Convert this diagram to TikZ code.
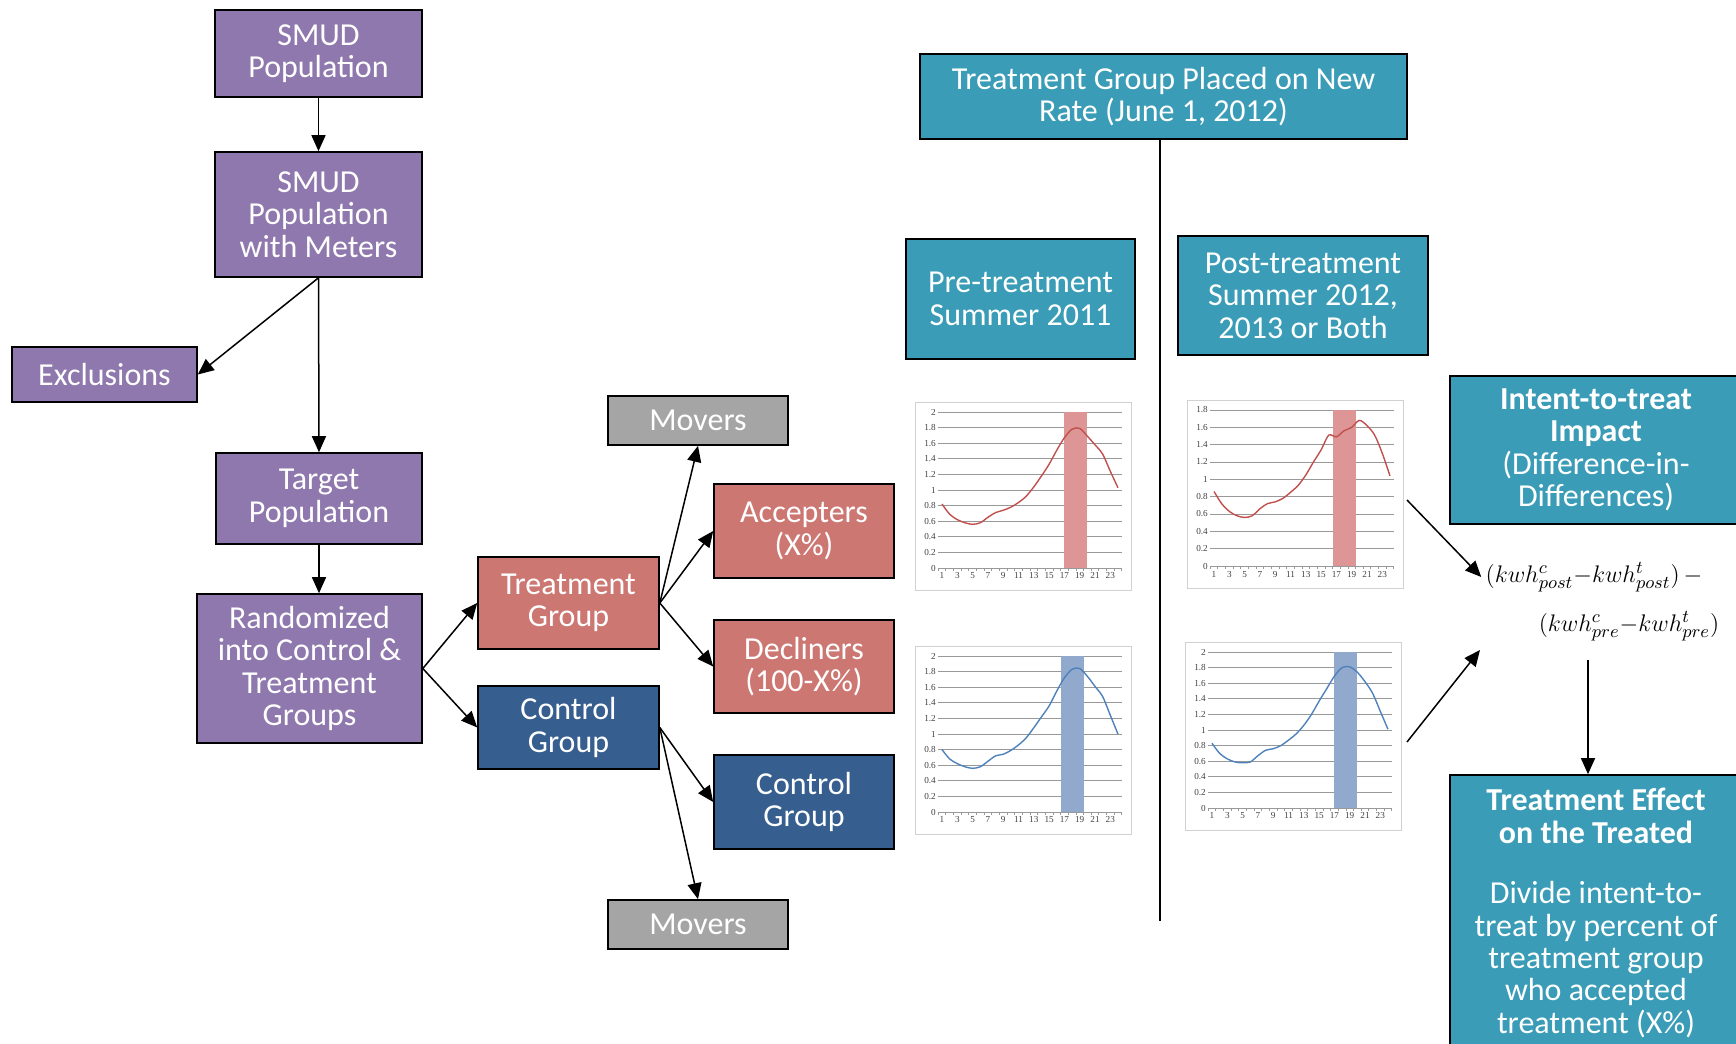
\documentclass[tikz,border=0pt]{standalone}
\usepackage{fontspec}
\setmainfont{Carlito}
\newfontfamily\chartfont{Liberation Serif}
\usetikzlibrary{arrows.meta}

\definecolor{smudpurple}{RGB}{143,120,173}
\definecolor{treatred}{RGB}{205,119,115}
\definecolor{ctrlblue}{RGB}{54,94,143}
\definecolor{moversgray}{RGB}{165,165,165}
\definecolor{rateteal}{RGB}{58,156,182}
\definecolor{plotred}{RGB}{192,80,77}
\definecolor{shadered}{RGB}{221,150,149}
\definecolor{plotblue}{RGB}{79,129,189}
\definecolor{shadeblue}{RGB}{145,169,204}

% #1,#2 frame corner, #3 y unit, #4 ymax, #5 grid values, #6,#7 peak band, #8 red/blue, #9 data
\newcommand{\hourchart}[9]{%
	\draw[chartframe] (#1,#2) rectangle ++(216,188);
	\begin{scope}[shift={(#1+19.35,#2+166)}, x=3.825pt, y=#3]
		\foreach \v in {#5} {
			\draw[chartgrid] (0.5,\v) -- (24.5,\v);
			\node[chartlbl, left] at (0.5,\v) {\v};
		}
		\foreach \h in {0.5,1.5,...,24.5} \draw[chartgrid] (\h,0) -- ++(0,-1.5pt);
		\foreach \h in {1,3,...,23} \node[chartlbl, below] at (\h,-0.03) {\h};
		\fill[#8band] (#6,0) rectangle (#7,#4);
		\draw[#8curve] plot[smooth, tension=0.5] coordinates {#9};
	\end{scope}}

\begin{document}
\begin{tikzpicture}[x=0.5pt, y=-0.5pt,
	box/.style={draw=black, line width=0.8pt, text=white, align=center, inner sep=2pt,
		font=\fontsize{16}{16.2}\selectfont},
	purplebox/.style={box, fill=smudpurple},
	redbox/.style={box, fill=treatred},
	bluebox/.style={box, fill=ctrlblue},
	graybox/.style={box, fill=moversgray},
	tealbox/.style={box, fill=rateteal},
	arr/.style={-{Triangle[length=8pt,width=7pt]}, line width=0.75pt},
	formula/.style={inner sep=0pt, font=\fontsize{13}{15}\selectfont},
	chartframe/.style={draw=black!18, line width=0.5pt},
	chartgrid/.style={draw=black!40, line width=0.35pt},
	chartlbl/.style={inner sep=1pt, text=black!75, font=\chartfont\fontsize{4.6}{5}\selectfont},
	redband/.style={fill=shadered},
	blueband/.style={fill=shadeblue},
	redcurve/.style={draw=plotred, line width=0.7pt},
	bluecurve/.style={draw=plotblue, line width=0.7pt}]
	\useasboundingbox (0,0) rectangle (1736,1044);

	\node[purplebox, minimum width=103.5pt, minimum height=43.5pt] (smud) at (318.5,53.5) {SMUD\\Population};
	\node[purplebox, minimum width=103.5pt, minimum height=62.5pt] (meters) at (318.5,214.5) {SMUD\\Population\\with Meters};
	\node[purplebox, minimum width=92.5pt, minimum height=27.5pt] (excl) at (104.5,374.5) {Exclusions};
	\node[purplebox, minimum width=103pt, minimum height=45.5pt] (target) at (319,498.5) {Target\\Population};
	\node[purplebox, minimum width=112.5pt, minimum height=74.5pt] (rand) at (309.5,668.5) {Randomized\\into Control \&\\Treatment\\Groups};

	\node[redbox, minimum width=90.5pt, minimum height=46pt] (treat) at (568.5,603) {Treatment\\Group};
	\node[bluebox, minimum width=90.5pt, minimum height=41.5pt] (ctrl) at (568.5,727.5) {Control\\Group};
	\node[graybox, minimum width=90pt, minimum height=24.5pt] (moversT) at (698,420.5) {Movers};
	\node[redbox, minimum width=90pt, minimum height=47pt] (acc) at (804,531) {Accepters\\(X\%)};
	\node[redbox, minimum width=90pt, minimum height=46.5pt] (dec) at (804,666.5) {Decliners\\(100-X\%)};
	\node[bluebox, minimum width=90pt, minimum height=47pt] (ctrlB) at (804,802) {Control\\Group};
	\node[graybox, minimum width=90pt, minimum height=24.5pt] (moversB) at (698,924.5) {Movers};

	\node[tealbox, minimum width=243.5pt, minimum height=42.5pt] (rate) at (1163.5,96.5) {Treatment Group Placed on New\\Rate (June 1, 2012)};
	\node[tealbox, minimum width=114.5pt, minimum height=60pt] (pre) at (1020.5,299) {Pre-treatment\\Summer 2011};
	\node[tealbox, minimum width=125pt, minimum height=59.5pt] (post) at (1303,295.5) {Post-treatment\\Summer 2012,\\2013 or Both};
	\node[tealbox, minimum width=146pt, minimum height=74pt] (itt) at (1596,450) {\textbf{Intent-to-treat}\\\textbf{Impact}\\(Difference-in-\\Differences)};
	\node[tealbox, minimum width=146pt, minimum height=138pt] (tot) at (1596,913) {\textbf{Treatment Effect}\\\textbf{on the Treated}\\[14pt]Divide intent-to-\\treat by percent of\\treatment group\\who accepted\\treatment (X\%)};

	\node[formula] (ddpost) at (1594,577) {$(kwh^{c}_{post}{-}kwh^{t}_{post})\,{-}$};
	\node[formula] (ddpre) at (1629,626) {$(kwh^{c}_{pre}{-}kwh^{t}_{pre})$};

	\hourchart{915}{402}{39pt}{2}{0,0.2,0.4,0.6,0.8,1,1.2,1.4,1.6,1.8,2}{17}{20}{red}{(1,0.82) (2,0.69) (3,0.62) (4,0.58) (5,0.56) (6,0.58) (7,0.65) (8,0.71) (9,0.74) (10,0.78) (11,0.84) (12,0.92) (13,1.04) (14,1.18) (15,1.33) (16,1.51) (17,1.67) (18,1.78) (19,1.79) (20,1.69) (21,1.58) (22,1.46) (23,1.24) (24,1.03)}
	\hourchart{1187}{400}{43.333pt}{1.8}{0,0.2,0.4,0.6,0.8,1,1.2,1.4,1.6,1.8}{16.5}{19.5}{red}{(1,0.86) (2,0.72) (3,0.63) (4,0.58) (5,0.56) (6,0.58) (7,0.66) (8,0.72) (9,0.74) (10,0.78) (11,0.85) (12,0.93) (13,1.05) (14,1.2) (15,1.34) (16,1.51) (17,1.49) (18,1.56) (19,1.6) (20,1.68) (21,1.62) (22,1.51) (23,1.3) (24,1.04)}
	\hourchart{915}{646}{39pt}{2}{0,0.2,0.4,0.6,0.8,1,1.2,1.4,1.6,1.8,2}{16.6}{19.6}{blue}{(1,0.8) (2,0.68) (3,0.62) (4,0.58) (5,0.56) (6,0.58) (7,0.65) (8,0.72) (9,0.74) (10,0.79) (11,0.86) (12,0.95) (13,1.08) (14,1.22) (15,1.36) (16,1.55) (17,1.72) (18,1.83) (19,1.84) (20,1.74) (21,1.61) (22,1.48) (23,1.24) (24,1)}
	\hourchart{1185}{642}{39pt}{2}{0,0.2,0.4,0.6,0.8,1,1.2,1.4,1.6,1.8,2}{17}{20}{blue}{(1,0.83) (2,0.7) (3,0.63) (4,0.59) (5,0.58) (6,0.59) (7,0.67) (8,0.74) (9,0.76) (10,0.8) (11,0.87) (12,0.95) (13,1.06) (14,1.2) (15,1.37) (16,1.53) (17,1.69) (18,1.8) (19,1.81) (20,1.74) (21,1.62) (22,1.47) (23,1.24) (24,1.01)}

	\coordinate (lineend) at (1160,921);
	\coordinate (postT) at (1407,500);
	\coordinate (postC) at (1407,742);
	\coordinate (ddin) at (1480,650);
	\coordinate (ddout) at (1588,660);

	\draw[arr] (smud) -- (meters);
	\draw[arr] (meters.south) -- (excl.east);
	\draw[arr] (meters.south) -- (target.north);
	\draw[arr] (target.south) -- (target.south |- rand.north);
	\draw[arr] (rand.east) -- (treat.west);
	\draw[arr] (rand.east) -- (ctrl.west);
	\draw[arr] (treat.east) -- (moversT.south);
	\draw[arr] (treat.east) -- (acc.west);
	\draw[arr] (treat.east) -- (dec.west);
	\draw[arr] (ctrl.east) -- (ctrlB.west);
	\draw[arr] (ctrl.east) -- (moversB.north);
	\draw[line width=0.75pt] (rate.south -| lineend) -- (lineend);
	\draw[arr] (postT) -- ([xshift=-2pt]ddpost.west);
	\draw[arr] (postC) -- (ddin);
	\draw[arr] (ddout) -- (ddout |- tot.north);
\end{tikzpicture}
\end{document}
